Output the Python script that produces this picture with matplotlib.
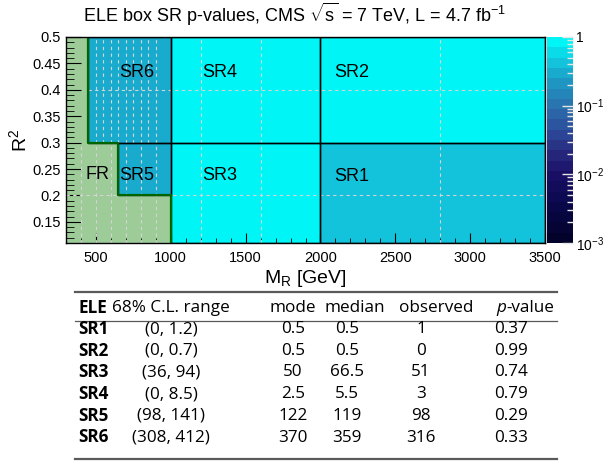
import matplotlib
matplotlib.use('Agg')
import matplotlib.pyplot as plt
from matplotlib.colors import LinearSegmentedColormap, LogNorm
from matplotlib.patches import Rectangle, Polygon
from matplotlib.lines import Line2D
from matplotlib.ticker import MultipleLocator, FixedLocator
import numpy as np

plt.rcParams['font.family'] = ['Liberation Sans', 'DejaVu Sans']
plt.rcParams['mathtext.fontset'] = 'custom'
plt.rcParams['mathtext.rm'] = 'Liberation Sans'
plt.rcParams['mathtext.it'] = 'Liberation Sans:italic'

# signal regions: name, M_R range, R^2 range, p-value
regions = ['SR1', 'SR2', 'SR3', 'SR4', 'SR5', 'SR6']
mr_lo = [2000, 2000, 1000, 1000, 650, 450]
mr_hi = [3500, 3500, 2000, 2000, 1000, 1000]
rsq_lo = [0.11, 0.3, 0.11, 0.3, 0.2, 0.3]
rsq_hi = [0.3, 0.5, 0.3, 0.5, 0.3, 0.5]
pvalue = [0.37, 0.99, 0.74, 0.79, 0.29, 0.33]

# fit region boundary (staircase)
fr_mr = [300, 1000, 1000, 650, 650, 450, 450, 300]
fr_rsq = [0.11, 0.11, 0.2, 0.2, 0.3, 0.3, 0.5, 0.5]

# table
cl_range = ['(0, 1.2)', '(0, 0.7)', '(36, 94)', '(0, 8.5)', '(98, 141)', '(308, 412)']
mode = ['0.5', '0.5', '50', '2.5', '122', '370']
median = ['0.5', '0.5', '66.5', '5.5', '119', '359']
observed = ['1', '0', '51', '3', '98', '316']

W, H = 603, 462
fig = plt.figure(figsize=(W / 100, H / 100), dpi=100)


def fx(x):
    return x / W


def fy(y):
    return 1 - y / H


ax = fig.add_axes([fx(66), fy(243), fx(545) - fx(66), fy(37) - fy(243)])
cax = fig.add_axes([fx(547), fy(243), fx(573) - fx(547), fy(37) - fy(243)])

cmap = LinearSegmentedColormap.from_list(
    'pval',
    [(0.0, '#02022a'), (0.2, '#0c0850'), (0.333, '#1a1068'), (0.45, '#282c80'),
     (0.55, '#2c4c9c'), (0.667, '#2a70ac'), (0.8, '#1e98c4'), (0.9, '#12c4dc'),
     (1.0, '#00f6f6')], N=20)
norm = LogNorm(1e-3, 1)

for i in range(len(regions)):
    ax.add_patch(Rectangle((mr_lo[i], rsq_lo[i]), mr_hi[i] - mr_lo[i], rsq_hi[i] - rsq_lo[i],
                           facecolor=cmap(norm(pvalue[i])), edgecolor='none', zorder=1))

ax.add_patch(Polygon(np.column_stack([fr_mr, fr_rsq]), closed=True,
                     facecolor='#9dcc99', edgecolor='none', zorder=1))

# dashed grid
gkw = dict(color='#d4d4d4', lw=0.8, ls=(0, (3, 3)), zorder=2)
for x in np.arange(500, 901, 50):
    ax.plot([x, x], [0.3, 0.5], **gkw)
for x in np.arange(400, 901, 100):
    ax.plot([x, x], [0.11, 0.3], **gkw)
for x in [1200, 1600, 2800]:
    ax.plot([x, x], [0.11, 0.5], **gkw)
ax.plot([450, 3500], [0.4, 0.4], **gkw)
ax.plot([300, 3500], [0.2, 0.2], **gkw)

for i in range(len(regions)):
    ax.add_patch(Rectangle((mr_lo[i], rsq_lo[i]), mr_hi[i] - mr_lo[i], rsq_hi[i] - rsq_lo[i],
                           facecolor='none', edgecolor='black', lw=1.0, zorder=3))
ax.plot(fr_mr[1:-1], fr_rsq[1:-1], color='#006400', lw=1.6, zorder=4)

tkw = dict(fontsize=13, va='center', ha='left', zorder=5)
ax.text(427, 0.239, 'FR', **tkw)
ax.text(655, 0.238, 'SR5', **tkw)
ax.text(1210, 0.237, 'SR3', **tkw)
ax.text(2095, 0.235, 'SR1', **tkw)
ax.text(655, 0.433, 'SR6', **tkw)
ax.text(1210, 0.432, 'SR4', **tkw)
ax.text(2095, 0.432, 'SR2', **tkw)

ax.set_xlim(300, 3500)
ax.set_ylim(0.11, 0.5)
ax.xaxis.set_major_locator(MultipleLocator(500))
ax.xaxis.set_minor_locator(MultipleLocator(100))
ax.yaxis.set_major_locator(FixedLocator([0.15, 0.2, 0.25, 0.3, 0.35, 0.4, 0.45, 0.5]))
ax.yaxis.set_minor_locator(MultipleLocator(0.01))
ax.set_yticklabels(['0.15', '0.2', '0.25', '0.3', '0.35', '0.4', '0.45', '0.5'])
ax.tick_params(which='both', direction='in', labelsize=10.5, top=False, right=False)
ax.tick_params(axis='x', which='major', length=7, pad=6)
ax.tick_params(axis='x', which='minor', length=3.5)
ax.tick_params(axis='y', which='major', length=11, pad=4)
ax.tick_params(axis='y', which='minor', length=6)
for s in ax.spines.values():
    s.set_linewidth(1.0)
    s.set_zorder(6)

ax.set_xlabel('M$_{\\mathrm{R}}$ [GeV]', fontsize=14, labelpad=2)
fig.text(fx(19), fy(140), 'R$^{2}$', fontsize=14, rotation=90, ha='center', va='center')
fig.text(fx(295), fy(14), 'ELE box SR p-values, CMS $\\sqrt{\\mathrm{s}}$ = 7 TeV, L = 4.7 fb$^{-1}$',
         fontsize=13, ha='center', va='center')

cb = fig.colorbar(plt.cm.ScalarMappable(norm=norm, cmap=cmap), cax=cax)
cb.outline.set_visible(False)
cb.set_ticks([1e-3, 1e-2, 1e-1, 1])
cb.set_ticklabels(['10$^{-3}$', '10$^{-2}$', '10$^{-1}$', '1'])
cax.tick_params(which='both', direction='in', color='#e6e6e6', labelsize=10, pad=2)
cax.tick_params(which='major', length=8, width=1.0)
cax.tick_params(which='minor', length=4, width=1.0)

# table
tf = ['Open Sans', 'DejaVu Sans']
rule = dict(color='#5a5a5a', transform=fig.transFigure)
fig.add_artist(Line2D([fx(75), fx(557)], [fy(292), fy(292)], lw=1.6, **rule))
fig.add_artist(Line2D([fx(75), fx(557)], [fy(321), fy(321)], lw=0.9, **rule))
fig.add_artist(Line2D([fx(75), fx(557)], [fy(459), fy(459)], lw=1.6, **rule))

col_x = [78, 171, 293, 347, 421, 511]
hdr_y = 308
fs = 12.3
fig.text(fx(col_x[0]), fy(hdr_y), 'ELE', fontsize=fs, family=tf, weight='bold', va='center', ha='left')
fig.text(fx(col_x[1]), fy(hdr_y), '68% C.L. range', fontsize=fs, family=tf, va='center', ha='center')
fig.text(fx(col_x[2]), fy(hdr_y), 'mode', fontsize=fs, family=tf, va='center', ha='center')
fig.text(fx(355), fy(hdr_y), 'median', fontsize=fs, family=tf, va='center', ha='center')
fig.text(fx(436), fy(hdr_y), 'observed', fontsize=fs, family=tf, va='center', ha='center')
fig.text(fx(506), fy(hdr_y), 'p', fontsize=fs, family=tf, style='italic', va='center', ha='right')
fig.text(fx(506), fy(hdr_y), '-value', fontsize=fs, family=tf, va='center', ha='left')

for i, name in enumerate(regions):
    y = fy(329 + i * 21.7)
    fig.text(fx(col_x[0]), y, name, fontsize=fs, family=tf, weight='bold', va='center', ha='left')
    for j, v in enumerate([cl_range[i], mode[i], median[i], observed[i], f'{pvalue[i]:.2f}']):
        fig.text(fx(col_x[j + 1]), y, v, fontsize=fs, family=tf, va='center', ha='center')

fig.savefig('out.png', dpi=100)
